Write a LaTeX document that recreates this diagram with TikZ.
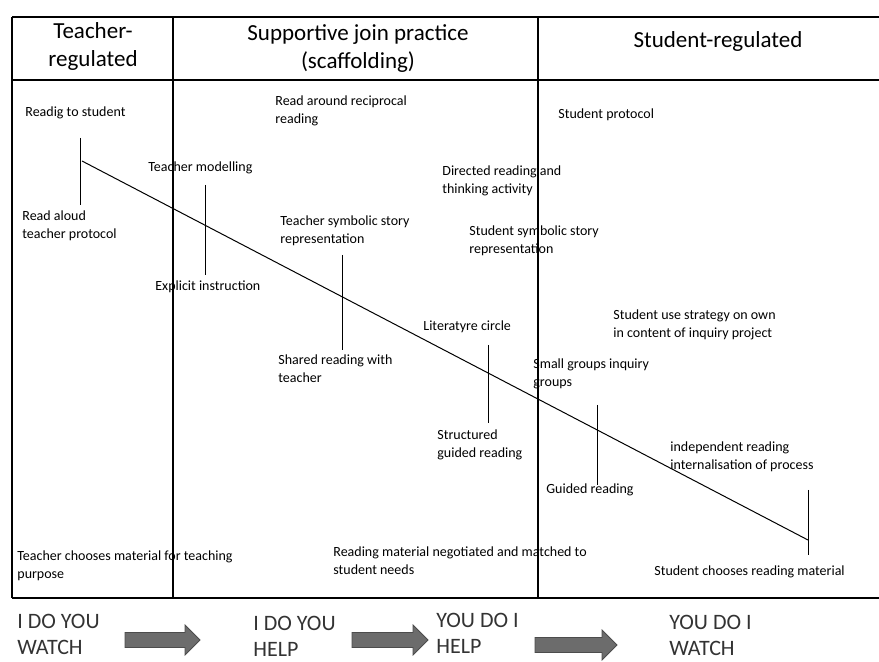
\documentclass[tikz,border=0pt]{standalone}
\usepackage{fontspec}
\setmainfont{Carlito}

\begin{document}
\begin{tikzpicture}[x=0.5pt,y=-0.5pt]
\tikzstyle{every node}+=[inner sep=0pt]
\tikzstyle{lbl}=[font=\fontsize{7}{9.3}\selectfont,align=left,anchor=north west]
\tikzstyle{hdr}=[font=\fontsize{11.5}{14}\selectfont,align=center,anchor=north]
\tikzstyle{phase}=[font=\fontsize{11}{13}\selectfont,align=left,anchor=north west,text=black!80]
\tikzstyle{frame}=[line width=1.2pt]
\tikzstyle{tick}=[line width=0.5pt]
\tikzstyle{flow}=[fill=gray!85!black,draw=black!70,line width=0.4pt]
\useasboundingbox (0,0) rectangle (879,662);
% table frame
\draw[frame] (12,17) -- (879,17);
\draw[frame] (12,80) -- (879,80);
\draw[frame] (12,598) -- (879,598);
\foreach \x in {12,173,538}
  \draw[frame] (\x,17) -- (\x,598);
% column headers
\node[hdr] (hTeacher) at (93,22) {Teacher-\\regulated};
\node[hdr] (hSupport) at (358,24) {Supportive join practice\\(scaffolding)};
\node[hdr] (hStudent) at (718,31) {Student-regulated};
% strategies
\node[lbl] (readig) at (25,106) {Readig to student};
\node[lbl] (around) at (275,95) {Read around reciprocal\\reading};
\node[lbl] (model) at (148,161) {Teacher modelling};
\node[lbl] (aloud) at (22,210) {Read aloud\\teacher protocol};
\node[lbl] (explicit) at (155,280) {Explicit instruction};
\node[lbl] (tsymb) at (280,215) {Teacher symbolic story\\representation};
\node[lbl] (shared) at (278,354) {Shared reading with\\teacher};
\node[lbl] (sprot) at (558,108) {Student protocol};
\node[lbl] (direct) at (442,165) {Directed reading and\\thinking activity};
\node[lbl] (ssymb) at (469,225) {Student symbolic story\\representation};
\node[lbl] (circle) at (423,320) {Literatyre circle};
\node[lbl] (strat) at (613,309) {Student use strategy on own\\in content of inquiry project};
\node[lbl] (small) at (533,358) {Small groups inquiry\\groups};
\node[lbl] (struct) at (437,429) {Structured\\guided reading};
\node[lbl] (indep) at (670,441) {independent reading\\internalisation of process};
\node[lbl] (guided) at (546,483) {Guided reading};
% materials
\node[lbl] (tmat) at (17,550) {Teacher chooses material for teaching\\purpose};
\node[lbl] (nmat) at (333,546) {Reading material negotiated and matched to\\student needs};
\node[lbl] (smat) at (654,565) {Student chooses reading material};
% gradual release line
\coordinate (trendStart) at (82,161);
\coordinate (trendEnd) at (808,540);
\draw[tick] (trendStart) -- (trendEnd);
\foreach \x/\a/\b [count=\i] in {80/138/205,205/185/275,342/255/350,488/345/423,597/405/485,808/490/555}
{
  \coordinate (tick\i a) at (\x,\a);
  \coordinate (tick\i b) at (\x,\b);
  \draw[tick] (tick\i a) -- (tick\i b);
}
% phases
\node[phase] (pWatchA) at (17,614) {I DO YOU\\WATCH};
\node[phase] (pHelpA) at (253,616) {I DO YOU\\HELP};
\node[phase] (pHelpB) at (436,613) {YOU DO I\\HELP};
\node[phase] (pWatchB) at (669,615) {YOU DO I\\WATCH};
\foreach \xa/\xb/\xc/\yc in {125/185/200/640,352/413/428/640,535/602/617/645}
  \draw[flow] (\xa,\yc-7.5) -- (\xb,\yc-7.5) -- (\xb,\yc-15) -- (\xc,\yc)
    -- (\xb,\yc+15) -- (\xb,\yc+7.5) -- (\xa,\yc+7.5) -- cycle;
\end{tikzpicture}
\end{document}
